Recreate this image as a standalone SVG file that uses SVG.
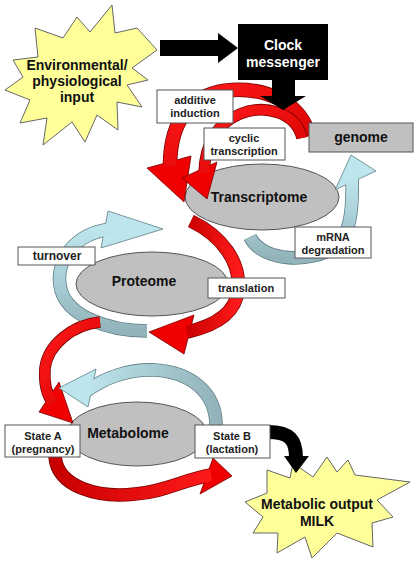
<svg xmlns="http://www.w3.org/2000/svg" width="419" height="562" viewBox="0 0 419 562">
<defs>
<linearGradient id="redg" x1="0" y1="0" x2="1" y2="1"><stop offset="0" stop-color="#ff1a1a"/><stop offset="1" stop-color="#d40000"/></linearGradient>
<linearGradient id="redg2" x1="0" y1="0" x2="1" y2="0"><stop offset="0" stop-color="#c80000"/><stop offset="1" stop-color="#ff1a1a"/></linearGradient>
<linearGradient id="blueV" x1="0" y1="1" x2="0" y2="0"><stop offset="0" stop-color="#93b3ba"/><stop offset="0.5" stop-color="#a9cfd6"/><stop offset="1" stop-color="#bde6ec"/></linearGradient>
<linearGradient id="blueH" x1="0" y1="0" x2="1" y2="0"><stop offset="0" stop-color="#bde6ec"/><stop offset="1" stop-color="#93b3ba"/></linearGradient>
</defs>
<style>
.big{font-family:"Liberation Sans",Arial,sans-serif;font-weight:bold;font-size:14px;fill:#111;text-anchor:middle}
.lbl{font-family:"Liberation Sans",Arial,sans-serif;font-weight:bold;font-size:11px;fill:#222;text-anchor:middle}
.box{fill:#fff;stroke:#555;stroke-width:1}
.ell{fill:#c0c0c0;stroke:#555;stroke-width:1}
.star{fill:#ffff99;stroke:#666;stroke-width:1;stroke-linejoin:miter}
.ro{fill:none;stroke:#7a0000}
.ri{fill:none;stroke:url(#redg)}
.rh{fill:#f00000;stroke:#7a0000;stroke-width:0.8;stroke-linejoin:miter}
.bo{fill:none;stroke:#5f7f85}
.bh{fill:#bde6ec;stroke:#5f7f85;stroke-width:0.8}
.blk{fill:#000}
</style>

<g id="env-input">
<polygon class="star" points="112,5 115,33 137,28 157,50 132,68 148,80 127,85 142,107 117,102 118,130 97,115 85,142 72,122 43,145 47,118 20,123 30,100 5,90 23,77 13,60 38,57 35,28 63,38 77,17 90,32"/>
<text class="big" x="77" y="70">Environmental/</text>
<text class="big" x="77" y="86">physiological</text>
<text class="big" x="77" y="102">input</text>
</g>

<g id="milk-output">
<polygon class="star" points="348,460 355,475 410,482 377,500 393,517 372,523 373,547 337,533 312,558 305,537 277,553 278,533 253,533 263,517 245,502 267,493 267,470 290,478 293,463 313,477 327,457 337,472"/>
<text class="big" x="317" y="509">Metabolic output</text>
<text class="big" x="317" y="526">MILK</text>
</g>

<g id="transcriptome"><ellipse class="ell" cx="262" cy="197" rx="77" ry="33"/><text class="big" x="259" y="202">Transcriptome</text></g>
<g id="proteome"><ellipse class="ell" cx="152" cy="284" rx="76" ry="32"/><text class="big" x="144" y="286">Proteome</text></g>
<g id="metabolome"><ellipse class="ell" cx="137" cy="434" rx="70" ry="32"/><text class="big" x="128" y="438">Metabolome</text></g>

<g id="connectors">
<path class="ro" stroke-width="14.6" d="M309 136 C302 104 268 88 232 90 C196 92 170 115 170 166"/>
<polygon class="rh" points="147,168 184,202 191,156"/>
<path class="ri" stroke-width="13" d="M309 136 C302 104 268 88 232 90 C196 92 170 115 170 166"/>
<path class="ro" stroke-width="11.6" d="M302 138 C296 112 264 104 240 114 C216 124 205 145 204 173"/>
<polygon class="rh" points="182,178 207,199 217,162"/>
<path class="ri" stroke-width="10" d="M302 138 C296 112 264 104 240 114 C216 124 205 145 204 173"/>
<path class="bo" stroke-width="13.6" d="M250 237 C262 262 312 264 336 246 C350 234 353 212 352 178"/>
<polygon class="bh" points="335,190 351,155 376,171"/>
<path fill="none" stroke="url(#blueV)" stroke-width="12" d="M250 237 C262 262 312 264 336 246 C350 234 353 212 352 178"/>
<path class="ro" stroke-width="13.6" d="M191 221 C222 236 241 262 238 290 C236 312 218 325 187 332"/>
<polygon class="rh" points="194,315 149,332 184,354"/>
<path fill="none" stroke="url(#redg2)" stroke-width="12" d="M191 221 C222 236 241 262 238 290 C236 312 218 325 187 332"/>
<path class="bo" stroke-width="13.6" d="M147 331 C108 331 68 316 61 290 C54 264 72 233 112 229"/>
<polygon class="bh" points="108,211 163,229 101,248"/>
<path fill="none" stroke="url(#blueV)" stroke-width="12" d="M147 331 C108 331 68 316 61 290 C54 264 72 233 112 229"/>
<path class="ro" stroke-width="11.6" d="M100 322 C72 325 48 345 45 368 C44 381 45 393 53 403"/>
<polygon class="rh" points="59,382 73,423 39,412"/>
<path class="ri" stroke-width="10" d="M100 322 C72 325 48 345 45 368 C44 381 45 393 53 403"/>
<path class="bo" stroke-width="13.6" d="M216 425 C216 392 190 372 155 370 C130 369 105 377 85 392"/>
<polygon class="bh" points="96,369 59,388 88,407"/>
<path fill="none" stroke="url(#blueH)" stroke-width="12" d="M216 425 C216 392 190 372 155 370 C130 369 105 377 85 392"/>
<path class="ro" stroke-width="13.6" d="M55 456 C57 488 100 498 135 494 C165 492 185 479 211 475"/>
<polygon class="rh" points="213,458 232,476 200,494"/>
<path fill="none" stroke="url(#redg2)" stroke-width="12" d="M55 456 C57 488 100 498 135 494 C165 492 185 479 211 475"/>
<path fill="none" stroke="#000" stroke-width="14" d="M268 432 C290 432 296 440 296 458"/>
<polygon class="blk" points="284,456 309,456 296,473"/>
<polygon class="blk" points="160,40 218,40 218,33 238,48 218,63 218,56 160,56"/>
<polygon class="blk" points="272,79 295,79 295,96 306,96 283,110 260,96 272,96"/>
</g>

<g id="clock-messenger">
<rect x="238" y="24" width="90" height="56" fill="#000"/>
<text class="big" x="283" y="50" style="fill:#fff">Clock</text>
<text class="big" x="283" y="67" style="fill:#fff">messenger</text>
</g>
<g id="genome"><rect x="309" y="123" width="104" height="29" fill="#c0c0c0" stroke="#555"/><text class="big" x="361" y="142">genome</text></g>
<g id="additive-induction"><rect class="box" x="157" y="90" width="76" height="33"/><text class="lbl" x="195" y="104">additive</text><text class="lbl" x="195" y="117">induction</text></g>
<g id="cyclic-transcription"><rect class="box" x="204" y="128" width="81" height="32"/><text class="lbl" x="244" y="142">cyclic</text><text class="lbl" x="244" y="155">transcription</text></g>
<g id="mrna-degradation"><rect class="box" x="295" y="227" width="76" height="31"/><text class="lbl" x="333" y="241">mRNA</text><text class="lbl" x="333" y="254">degradation</text></g>
<g id="translation"><rect class="box" x="208" y="278" width="77" height="20"/><text class="lbl" x="246" y="292">translation</text></g>
<g id="turnover"><rect class="box" x="18" y="247" width="77" height="18"/><text class="lbl" x="57" y="260" style="font-size:12px">turnover</text></g>
<g id="state-a"><rect class="box" x="5" y="425" width="75" height="32"/><text class="lbl" x="43" y="440">State A</text><text class="lbl" x="43" y="453">(pregnancy)</text></g>
<g id="state-b"><rect class="box" x="195" y="425" width="75" height="33"/><text class="lbl" x="232" y="440">State B</text><text class="lbl" x="232" y="453">(lactation)</text></g>
</svg>
